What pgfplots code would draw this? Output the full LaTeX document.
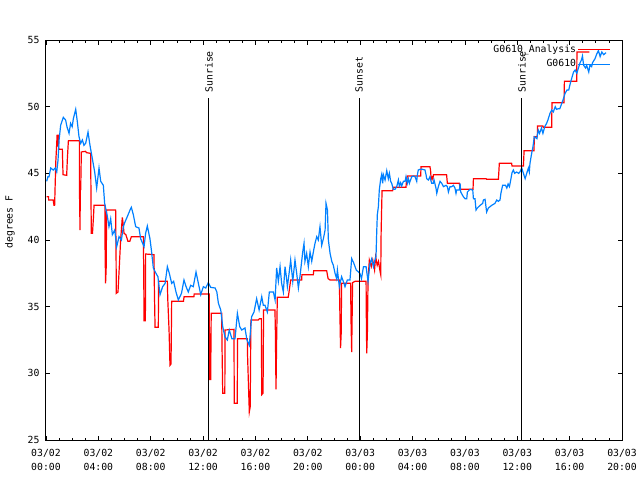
\documentclass[border=0pt]{standalone}
\usepackage{fontspec}
\setmainfont{DejaVu Sans Mono}
\usepackage{pgfplots}
\pgfplotsset{compat=1.18}
\definecolor{dpred}{RGB}{255,0,0}
\definecolor{dpblue}{RGB}{0,128,255}
\newcommand{\gfont}{\fontsize{9.8}{14}\selectfont}
\begin{document}
\begin{tikzpicture}[font=\gfont]
\useasboundingbox (-46pt,-40pt) rectangle (594pt,440pt);
\begin{axis}[
 at={(0pt,0pt)}, anchor=south west,
 scale only axis, width=576pt, height=400pt,
 xmin=0, xmax=44, ymin=25, ymax=55,
 xtick={0,4,...,44},
 xticklabels={{03/02\\00:00},{03/02\\04:00},{03/02\\08:00},{03/02\\12:00},{03/02\\16:00},{03/02\\20:00},{03/03\\00:00},{03/03\\04:00},{03/03\\08:00},{03/03\\12:00},{03/03\\16:00},{03/03\\20:00}},
 xticklabel style={align=center, font=\gfont, yshift=-6pt},
 minor x tick num=3,
 ytick={25,30,...,55},
 yticklabel style={font=\gfont, xshift=-3pt},
 ylabel={degrees F},
 ylabel style={at={(axis description cs:-0.0625,0.545)}, anchor=center, font=\gfont, inner sep=0pt},
 /pgf/number format/assume math mode=true,
 tick align=inside,
 major tick length=4.5pt, minor tick length=2.5pt,
 every tick/.style={black, line width=0.8pt},
 axis line style={line width=1pt},
 legend plot pos=right,
 legend cell align=right,
 legend style={draw=none, fill=none, at={(1,1)}, anchor=north east, xshift=-11pt, yshift=-3pt,
   font=\gfont, inner sep=0pt, row sep=1.7pt,
   nodes={inner sep=1.5pt, text height=7.5pt, text depth=2.5pt}},
 legend image code/.code={\path (0pt,0pt) -- (5pt,0pt); \draw[#1] (5pt,0pt) -- (32pt,0pt);},
 clip=true,
]
\addplot[dpred, line width=1.2pt] coordinates {
(0.05,43.25) (0.2,43.25) (0.2,43.0) (0.55,43.0) (0.61,42.6) (0.66,42.6) (0.69,43.75) (0.75,45.9) (0.82,47.25) (0.85,47.9) (0.9,47.0) (0.93,47.9) (0.97,46.8) (1.25,46.8) (1.3,44.9) (1.58,44.85) (1.63,46.05) (1.71,47.45) (2.55,47.45) (2.55,44.25) (2.6,40.75) (2.62,44.0) (2.65,43.75) (2.7,46.6) (3.0,46.65) (3.1,46.55) (3.41,46.5) (3.46,40.5) (3.55,40.5) (3.62,41.6) (3.67,42.6) (4.51,42.6) (4.51,39.6) (4.55,36.75) (4.6,38) (4.63,42.25) (5.32,42.25) (5.35,39.25) (5.37,36.0) (5.5,36.1) (5.6,38.0) (5.7,40.0) (5.83,41.7) (5.9,41.15) (5.96,40.5) (6.1,40.4) (6.26,39.9) (6.4,39.9) (6.52,40.25) (7.44,40.25) (7.47,37.0) (7.49,33.9) (7.55,34.5) (7.59,33.9) (7.61,38.95) (8.25,38.9) (8.28,36.25) (8.33,33.45) (8.58,33.45) (8.6,36.9) (9.27,36.9) (9.3,35.6) (9.4,33.25) (9.47,30.6) (9.55,30.7) (9.6,35.4) (10.5,35.4) (10.55,35.75) (11.3,35.75) (11.32,35.95) (12.47,35.95) (12.48,32.75) (12.5,29.5) (12.55,33.0) (12.58,29.5) (12.62,34.5) (13.42,34.5) (13.45,31.75) (13.5,28.5) (13.66,28.5) (13.68,33.25) (14.36,33.3) (14.38,27.75) (14.61,27.75) (14.63,32.6) (15.38,32.6) (15.4,31.25) (15.53,27.1) (15.6,27.5) (15.65,34.0) (16.22,34.0) (16.3,34.1) (16.45,34.1) (16.48,28.4) (16.58,28.5) (16.62,34.75) (17.49,34.75) (17.52,33.25) (17.57,28.8) (17.62,32.6) (17.67,35.7) (18.5,35.7) (18.55,36.0) (18.62,36.5) (18.69,37.0) (19.53,37.0) (19.55,37.4) (20.42,37.4) (20.45,37.7) (21.44,37.7) (21.55,37.1) (21.7,37.0) (22.41,37.0) (22.45,34.5) (22.5,31.9) (22.55,33.0) (22.58,36.75) (23.27,36.75) (23.3,34.0) (23.35,31.6) (23.42,36.8) (23.6,36.9) (24.45,36.9) (24.47,34.25) (24.5,31.5) (24.55,33) (24.6,37.0) (24.7,38.5) (24.85,38.0) (24.96,38.5) (25.1,37.75) (25.18,38.75) (25.3,38.1) (25.4,38.4) (25.5,37.75) (25.57,37.4) (25.6,40.55) (25.67,43.7) (26.48,43.7) (26.55,43.95) (27.5,43.95) (27.52,44.25) (27.6,44.8) (28.62,44.8) (28.65,45.5) (29.33,45.5) (29.38,45.2) (29.42,44.55) (29.5,44.7) (29.55,44.55) (29.6,44.9) (30.6,44.9) (30.66,44.25) (31.58,44.25) (31.63,43.8) (32.62,43.8) (32.65,44.6) (33.62,44.6) (33.66,44.55) (34.56,44.55) (34.63,45.75) (35.57,45.75) (35.6,45.55) (36.47,45.55) (36.52,46.7) (37.28,46.7) (37.3,47.75) (37.53,47.75) (37.55,48.55) (37.96,48.55) (37.98,48.45) (38.63,48.45) (38.65,50.3) (39.57,50.3) (39.6,51.9) (40.54,51.9) (40.56,54.1) (41.5,54.1)
};
\addlegendentry{G0610\_Analysis}
\addplot[dpblue, line width=1.2pt] coordinates {
(0.05,44.4) (0.15,44.75) (0.23,44.75) (0.36,45.4) (0.55,45.25) (0.7,45.4) (0.82,45.1) (0.92,46.0) (1.0,47.5) (1.12,48.6) (1.32,49.2) (1.5,49.0) (1.6,48.5) (1.76,48.0) (1.88,48.75) (2.0,48.5) (2.09,49.1) (2.27,49.8) (2.39,48.9) (2.52,47.75) (2.65,47.25) (2.78,47.5) (2.9,47.1) (3.03,47.25) (3.21,48.1) (3.36,47.1) (3.54,46.1) (3.72,45.1) (3.87,43.9) (4.05,45.4) (4.18,44.4) (4.38,44.1) (4.48,42.75) (4.69,41.75) (4.81,41.0) (4.94,41.6) (5.07,40.4) (5.25,40.75) (5.40,39.5) (5.58,40.25) (5.76,40.0) (5.91,41.0) (6.01,41.3) (6.21,41.75) (6.42,42.25) (6.52,42.45) (6.67,41.9) (6.85,41.0) (7.10,40.9) (7.23,40.1) (7.49,39.5) (7.61,40.5) (7.74,41.05) (7.94,40.1) (8.05,39.25) (8.2,37.9) (8.4,37.5) (8.55,37.25) (8.71,35.9) (8.91,36.5) (9.1,36.75) (9.27,38.0) (9.42,37.5) (9.6,36.75) (9.75,36.9) (9.93,36.1) (10.11,35.5) (10.35,36.0) (10.54,37.0) (10.7,36.5) (10.87,36.1) (11.05,36.6) (11.25,36.5) (11.46,37.6) (11.64,36.75) (11.82,35.9) (12.02,36.5) (12.2,36.4) (12.40,36.8) (12.58,36.45) (12.92,36.4) (13.05,36.1) (13.17,35.25) (13.35,34.75) (13.50,33.5) (13.67,32.75) (13.85,32.5) (14.0,33.25) (14.2,32.6) (14.44,32.6) (14.62,34.5) (14.8,33.5) (14.95,33.25) (15.2,33.4) (15.35,32.5) (15.53,32.1) (15.71,34.25) (15.89,34.6) (16.09,35.6) (16.28,34.75) (16.48,35.75) (16.6,35.1) (16.73,35.1) (16.91,34.6) (17.06,36.1) (17.37,36.1) (17.5,35.5) (17.62,37.9) (17.75,36.9) (17.88,38.0) (18.0,36.75) (18.13,36.1) (18.26,38.0) (18.34,37.4) (18.44,36.5) (18.6,37.75) (18.69,38.5) (18.85,36.9) (19.02,38.5) (19.15,37.5) (19.28,36.4) (19.4,37.25) (19.61,39.1) (19.71,39.75) (19.78,38.4) (19.91,39.0) (20.04,38.0) (20.17,39.1) (20.3,38.4) (20.45,39.25) (20.55,39.75) (20.68,40.25) (20.8,40.0) (20.93,41.0) (21.06,39.6) (21.19,40.1) (21.32,40.75) (21.39,42.75) (21.5,42.25) (21.57,40.0) (21.7,39.0) (21.83,38.4) (21.95,38.1) (22.08,37.5) (22.2,37.1) (22.26,37.75) (22.41,36.5) (22.58,37.25) (22.71,36.9) (22.84,36.5) (23.02,37.0) (23.22,37.0) (23.35,38.6) (23.5,38.3) (23.7,37.75) (23.98,37.5) (24.1,37.1) (24.25,38.0) (24.45,38.0) (24.6,36.9) (24.75,38.25) (24.88,38.6) (25.01,38.0) (25.13,38.5) (25.21,38.75) (25.26,40.5) (25.31,41.9) (25.39,42.5) (25.46,43.75) (25.57,44.6) (25.64,44.9) (25.72,44.25) (25.77,44.9) (25.9,44.5) (26.03,45.2) (26.15,44.6) (26.23,45.0) (26.33,44.4) (26.41,44.25) (26.53,43.8) (26.66,43.8) (26.79,44.0) (26.92,44.5) (26.99,44.05) (27.09,44.3) (27.17,44.05) (27.3,44.4) (27.43,44.4) (27.5,44.75) (27.6,44.25) (27.68,44.6) (27.76,44.25) (27.81,44.4) (27.94,44.75) (28.06,44.8) (28.19,44.75) (28.32,44.4) (28.37,44.9) (28.44,45.25) (28.57,45.3) (28.77,45.3) (28.95,45.25) (29.03,44.9) (29.08,44.6) (29.21,44.5) (29.33,44.75) (29.46,44.25) (29.59,44.25) (29.64,44.5) (29.79,43.9) (29.85,43.5) (29.97,44.0) (30.1,44.4) (30.23,44.25) (30.36,44.0) (30.56,44.1) (30.66,44.0) (30.74,43.6) (30.86,44.0) (30.99,44.0) (31.12,44.1) (31.24,43.9) (31.32,43.5) (31.37,43.75) (31.58,43.75) (31.63,44.25) (31.68,43.6) (31.88,43.25) (32.01,43.1) (32.14,43.1) (32.19,43.6) (32.39,43.8) (32.6,43.75) (32.65,43.1) (32.77,43.1) (32.85,42.25) (32.95,42.4) (33.16,42.6) (33.36,42.75) (33.41,43.0) (33.54,43.05) (33.62,42.4) (33.66,42.1) (33.79,42.4) (34.05,42.6) (34.3,42.75) (34.43,43.0) (34.56,42.9) (34.68,43.0) (34.75,43.5) (34.88,44.1) (35.1,44.1) (35.2,43.9) (35.3,44.2) (35.4,44.0) (35.5,44.5) (35.6,45.05) (35.7,45.25) (35.8,45.0) (35.95,45.1) (36.1,45.0) (36.2,45.1) (36.34,45.4) (36.47,45.0) (36.6,44.6) (36.72,45.0) (36.85,45.4) (36.92,45.1) (36.97,45.75) (37.1,46.5) (37.2,47.0) (37.3,47.75) (37.5,47.6) (37.6,48.25) (37.7,48.0) (37.85,48.4) (37.96,48.0) (38.1,48.5) (38.24,48.75) (38.34,49.0) (38.5,49.5) (38.63,49.75) (38.75,49.6) (38.9,50.0) (39.0,49.8) (39.15,49.85) (39.25,49.85) (39.4,50.25) (39.53,50.6) (39.65,51.0) (39.8,51.25) (39.93,51.25) (40.05,51.75) (40.18,52.2) (40.3,52.6) (40.42,52.75) (40.55,52.5) (40.67,52.9) (40.8,53.3) (40.9,53.5) (40.98,53.8) (41.07,53.1) (41.22,52.9) (41.3,53.1) (41.46,52.6) (41.55,53.1) (41.68,53.0) (41.75,53.3) (41.94,53.6) (42.07,53.95) (42.2,54.2) (42.33,53.75) (42.46,54.1) (42.6,53.9) (42.78,54.05)
};
\addlegendentry{G0610}
\addplot[black, line width=1pt, forget plot] coordinates {(12.45,25) (12.45,50.65)};
\addplot[black, line width=1pt, forget plot] coordinates {(23.91,25) (23.91,50.65)};
\addplot[black, line width=1pt, forget plot] coordinates {(36.36,25) (36.36,50.65)};
\node[rotate=90, anchor=west, inner sep=0pt, font=\gfont] at (axis cs:12.45,51.05) {Sunrise};
\node[rotate=90, anchor=west, inner sep=0pt, font=\gfont] at (axis cs:23.91,51.05) {Sunset};
\node[rotate=90, anchor=west, inner sep=0pt, font=\gfont] at (axis cs:36.36,51.05) {Sunrise};
\node[font=\gfont] at (rel axis cs:0.4965,1.0525) {Dew Point for G0610 on 2025-Mar-02 (time in UTC)};
\end{axis}
\end{tikzpicture}
\end{document}
